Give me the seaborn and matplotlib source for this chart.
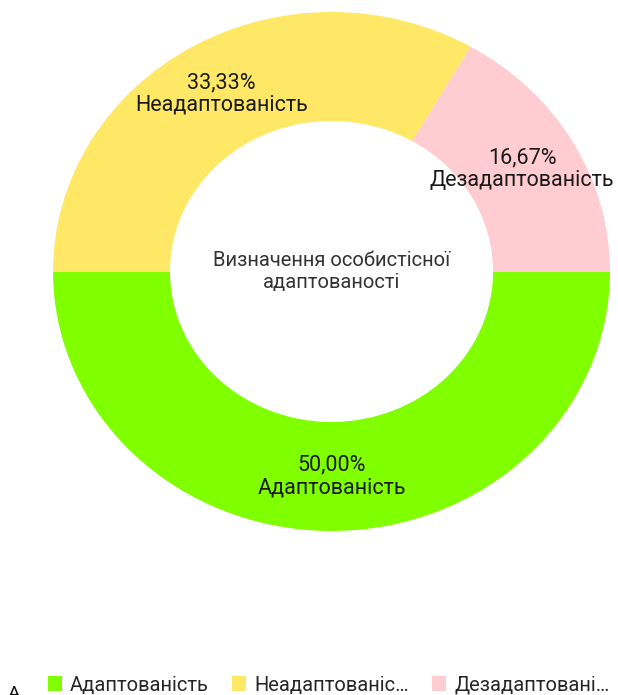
import matplotlib
matplotlib.use("Agg")
import matplotlib.pyplot as plt
import seaborn as sns

categories = ["Адаптованість", "Неадаптованість", "Дезадаптованість"]
values = [50.00, 33.33, 16.67]
legend_labels = ["Адаптованість", "Неадаптованіс…", "Дезадаптовані…"]
colors = ["#80FF00", "#FFE866", "#FFCCD2"]
center_title = "Визначення особистісної\nадаптованості"

sns.set_theme(style="white")
plt.rcParams['font.family'] = ['Roboto', 'DejaVu Sans']

fig = plt.figure(figsize=(6.18, 6.95), dpi=100)
W, H = 618, 695
# donut bounding box in pixels (slightly elliptical as in reference)
x0, x1, ytop, ybot = 53, 610, 12, 531
ax = fig.add_axes([x0 / W, (H - ybot) / H, (x1 - x0) / W, (ybot - ytop) / H])

def fmt_factory(vals, names):
    it = iter(range(len(vals)))
    def f(p):
        i = next(it)
        return f"{vals[i]:.2f}".replace(".", ",") + "%\n" + names[i]
    return f

wedges, texts, autotexts = ax.pie(
    values, colors=colors, startangle=0, counterclock=False,
    radius=1.0, wedgeprops=dict(width=0.42, linewidth=0),
    autopct=fmt_factory(values, categories), pctdistance=0.79,
    textprops=dict(fontsize=15.5, color="#1a1a1a", linespacing=1.1),
)
for t in autotexts:
    t.set_ha("center")
    t.set_va("center")
    t.set_multialignment("center")

ax.set_aspect("auto")
ax.set_xlim(-1, 1)
ax.set_ylim(-1, 1)
ax.axis("off")

ax.text(0, 0.0, center_title, ha="center", va="center", fontsize=14.5,
        color="#333333", linespacing=1.25)

fig.legend(wedges, legend_labels, loc="center", bbox_to_anchor=(0.532, 1 - 685 / H),
           ncol=3, frameon=False, fontsize=14.5, handlelength=0.7, handleheight=0.7,
           handletextpad=0.4, columnspacing=1.15, borderaxespad=0, borderpad=0)

fig.text(8 / W, -8 / H, "А", fontsize=14, color="#111111", va="bottom")

fig.savefig("out.png", dpi=100, facecolor="white")
